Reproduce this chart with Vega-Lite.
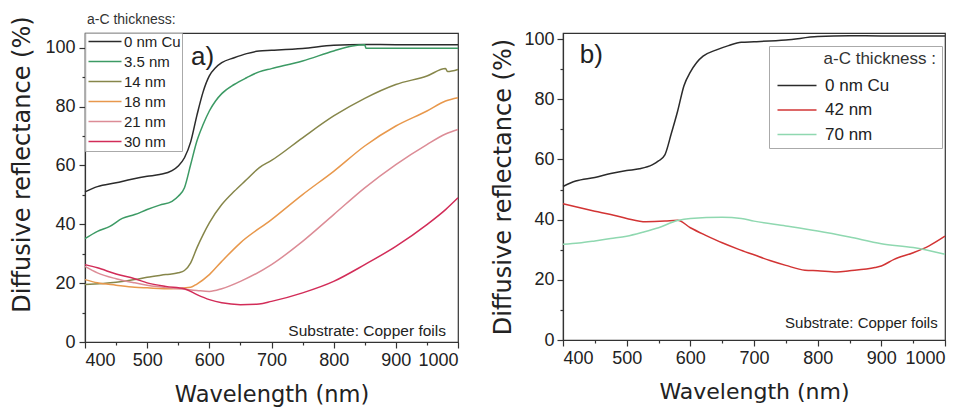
{
  "$schema": "https://vega.github.io/schema/vega-lite/v6.json",
  "background": "white",
  "padding": {"left": 10, "top": 12, "right": 5, "bottom": 0},
  "spacing": 29,
  "config": {
    "view": {"stroke": "#333", "strokeWidth": 1.2},
    "axis": {
      "grid": false,
      "domainColor": "#333",
      "tickColor": "#333",
      "labelColor": "#222",
      "titleColor": "#222",
      "labelFont": "Liberation Sans",
      "labelFontSize": 18,
      "titleFont": "DejaVu Sans",
      "titleFontWeight": "normal",
      "tickSize": 6,
      "labelPadding": 4,
      "domainWidth": 1.2,
      "tickWidth": 1.2
    },
    "legend": {"labelFont": "Liberation Sans", "titleFont": "Liberation Sans"}
  },
  "resolve": {"scale": {"x": "independent", "y": "independent", "color": "independent"}},
  "datasets": {
    "a": [
      {"wl": 400, "r": 51.0, "s": "0 nm Cu"}, {"wl": 420, "r": 52.8, "s": "0 nm Cu"}, {"wl": 450, "r": 54.1, "s": "0 nm Cu"}, {"wl": 475, "r": 55.3, "s": "0 nm Cu"}, {"wl": 500, "r": 56.3, "s": "0 nm Cu"}, {"wl": 520, "r": 56.9, "s": "0 nm Cu"}, {"wl": 540, "r": 58.2, "s": "0 nm Cu"}, {"wl": 550, "r": 59.8, "s": "0 nm Cu"}, {"wl": 560, "r": 62.6, "s": "0 nm Cu"}, {"wl": 570, "r": 68.0, "s": "0 nm Cu"}, {"wl": 580, "r": 77.0, "s": "0 nm Cu"}, {"wl": 590, "r": 85.0, "s": "0 nm Cu"}, {"wl": 600, "r": 90.4, "s": "0 nm Cu"}, {"wl": 610, "r": 93.2, "s": "0 nm Cu"}, {"wl": 620, "r": 94.9, "s": "0 nm Cu"}, {"wl": 640, "r": 96.6, "s": "0 nm Cu"}, {"wl": 660, "r": 98.0, "s": "0 nm Cu"}, {"wl": 680, "r": 98.9, "s": "0 nm Cu"}, {"wl": 700, "r": 99.1, "s": "0 nm Cu"}, {"wl": 750, "r": 99.7, "s": "0 nm Cu"}, {"wl": 800, "r": 100.8, "s": "0 nm Cu"}, {"wl": 850, "r": 101.1, "s": "0 nm Cu"}, {"wl": 900, "r": 101.0, "s": "0 nm Cu"}, {"wl": 950, "r": 101.0, "s": "0 nm Cu"}, {"wl": 1000, "r": 101.0, "s": "0 nm Cu"},
      {"wl": 400, "r": 35.1, "s": "3.5 nm"}, {"wl": 420, "r": 37.6, "s": "3.5 nm"}, {"wl": 440, "r": 39.3, "s": "3.5 nm"}, {"wl": 460, "r": 42.0, "s": "3.5 nm"}, {"wl": 480, "r": 43.3, "s": "3.5 nm"}, {"wl": 500, "r": 45.0, "s": "3.5 nm"}, {"wl": 520, "r": 46.5, "s": "3.5 nm"}, {"wl": 540, "r": 47.8, "s": "3.5 nm"}, {"wl": 550, "r": 49.5, "s": "3.5 nm"}, {"wl": 560, "r": 52.4, "s": "3.5 nm"}, {"wl": 570, "r": 60.3, "s": "3.5 nm"}, {"wl": 580, "r": 68.3, "s": "3.5 nm"}, {"wl": 590, "r": 73.9, "s": "3.5 nm"}, {"wl": 600, "r": 78.5, "s": "3.5 nm"}, {"wl": 610, "r": 81.9, "s": "3.5 nm"}, {"wl": 620, "r": 84.4, "s": "3.5 nm"}, {"wl": 640, "r": 87.5, "s": "3.5 nm"}, {"wl": 660, "r": 89.8, "s": "3.5 nm"}, {"wl": 680, "r": 91.8, "s": "3.5 nm"}, {"wl": 700, "r": 92.9, "s": "3.5 nm"}, {"wl": 750, "r": 95.5, "s": "3.5 nm"}, {"wl": 800, "r": 98.9, "s": "3.5 nm"}, {"wl": 830, "r": 100.6, "s": "3.5 nm"}, {"wl": 850, "r": 101.0, "s": "3.5 nm"}, {"wl": 852, "r": 99.8, "s": "3.5 nm"}, {"wl": 900, "r": 99.8, "s": "3.5 nm"}, {"wl": 950, "r": 99.8, "s": "3.5 nm"}, {"wl": 1000, "r": 99.8, "s": "3.5 nm"},
      {"wl": 400, "r": 19.5, "s": "14 nm"}, {"wl": 450, "r": 20.3, "s": "14 nm"}, {"wl": 480, "r": 21.2, "s": "14 nm"}, {"wl": 500, "r": 22.0, "s": "14 nm"}, {"wl": 530, "r": 22.9, "s": "14 nm"}, {"wl": 550, "r": 23.5, "s": "14 nm"}, {"wl": 560, "r": 24.3, "s": "14 nm"}, {"wl": 570, "r": 26.9, "s": "14 nm"}, {"wl": 580, "r": 32.0, "s": "14 nm"}, {"wl": 590, "r": 36.5, "s": "14 nm"}, {"wl": 600, "r": 40.5, "s": "14 nm"}, {"wl": 620, "r": 46.7, "s": "14 nm"}, {"wl": 640, "r": 51.2, "s": "14 nm"}, {"wl": 660, "r": 55.2, "s": "14 nm"}, {"wl": 680, "r": 59.2, "s": "14 nm"}, {"wl": 700, "r": 61.7, "s": "14 nm"}, {"wl": 750, "r": 69.4, "s": "14 nm"}, {"wl": 800, "r": 76.8, "s": "14 nm"}, {"wl": 850, "r": 82.8, "s": "14 nm"}, {"wl": 900, "r": 87.5, "s": "14 nm"}, {"wl": 950, "r": 90.4, "s": "14 nm"}, {"wl": 980, "r": 92.9, "s": "14 nm"}, {"wl": 983, "r": 91.9, "s": "14 nm"}, {"wl": 1000, "r": 92.6, "s": "14 nm"},
      {"wl": 400, "r": 21.2, "s": "18 nm"}, {"wl": 420, "r": 20.1, "s": "18 nm"}, {"wl": 450, "r": 19.3, "s": "18 nm"}, {"wl": 480, "r": 18.6, "s": "18 nm"}, {"wl": 500, "r": 18.4, "s": "18 nm"}, {"wl": 540, "r": 18.1, "s": "18 nm"}, {"wl": 570, "r": 18.6, "s": "18 nm"}, {"wl": 580, "r": 19.7, "s": "18 nm"}, {"wl": 600, "r": 22.9, "s": "18 nm"}, {"wl": 620, "r": 27.4, "s": "18 nm"}, {"wl": 650, "r": 33.7, "s": "18 nm"}, {"wl": 700, "r": 41.6, "s": "18 nm"}, {"wl": 750, "r": 50.1, "s": "18 nm"}, {"wl": 800, "r": 58.0, "s": "18 nm"}, {"wl": 850, "r": 66.6, "s": "18 nm"}, {"wl": 900, "r": 73.4, "s": "18 nm"}, {"wl": 950, "r": 78.5, "s": "18 nm"}, {"wl": 980, "r": 81.9, "s": "18 nm"}, {"wl": 1000, "r": 83.0, "s": "18 nm"},
      {"wl": 400, "r": 25.7, "s": "21 nm"}, {"wl": 420, "r": 23.5, "s": "21 nm"}, {"wl": 450, "r": 21.5, "s": "21 nm"}, {"wl": 480, "r": 20.1, "s": "21 nm"}, {"wl": 500, "r": 19.3, "s": "21 nm"}, {"wl": 550, "r": 18.1, "s": "21 nm"}, {"wl": 580, "r": 17.5, "s": "21 nm"}, {"wl": 600, "r": 17.2, "s": "21 nm"}, {"wl": 620, "r": 18.1, "s": "21 nm"}, {"wl": 650, "r": 20.6, "s": "21 nm"}, {"wl": 700, "r": 26.3, "s": "21 nm"}, {"wl": 750, "r": 34.2, "s": "21 nm"}, {"wl": 800, "r": 43.3, "s": "21 nm"}, {"wl": 850, "r": 52.4, "s": "21 nm"}, {"wl": 900, "r": 60.3, "s": "21 nm"}, {"wl": 950, "r": 67.1, "s": "21 nm"}, {"wl": 980, "r": 70.7, "s": "21 nm"}, {"wl": 1000, "r": 72.2, "s": "21 nm"},
      {"wl": 400, "r": 26.3, "s": "30 nm"}, {"wl": 420, "r": 25.2, "s": "30 nm"}, {"wl": 450, "r": 23.1, "s": "30 nm"}, {"wl": 480, "r": 21.5, "s": "30 nm"}, {"wl": 500, "r": 20.1, "s": "30 nm"}, {"wl": 530, "r": 18.9, "s": "30 nm"}, {"wl": 560, "r": 18.1, "s": "30 nm"}, {"wl": 580, "r": 16.1, "s": "30 nm"}, {"wl": 600, "r": 14.4, "s": "30 nm"}, {"wl": 620, "r": 13.3, "s": "30 nm"}, {"wl": 650, "r": 12.7, "s": "30 nm"}, {"wl": 680, "r": 12.9, "s": "30 nm"}, {"wl": 700, "r": 13.8, "s": "30 nm"}, {"wl": 750, "r": 16.7, "s": "30 nm"}, {"wl": 800, "r": 20.6, "s": "30 nm"}, {"wl": 850, "r": 26.3, "s": "30 nm"}, {"wl": 900, "r": 32.5, "s": "30 nm"}, {"wl": 950, "r": 39.9, "s": "30 nm"}, {"wl": 980, "r": 45.0, "s": "30 nm"}, {"wl": 1000, "r": 49.0, "s": "30 nm"}
    ],
    "b": [
      {"wl": 400, "r": 51.0, "s": "0 nm Cu"}, {"wl": 420, "r": 52.8, "s": "0 nm Cu"}, {"wl": 450, "r": 54.0, "s": "0 nm Cu"}, {"wl": 475, "r": 55.3, "s": "0 nm Cu"}, {"wl": 500, "r": 56.3, "s": "0 nm Cu"}, {"wl": 520, "r": 56.9, "s": "0 nm Cu"}, {"wl": 540, "r": 58.2, "s": "0 nm Cu"}, {"wl": 550, "r": 59.5, "s": "0 nm Cu"}, {"wl": 560, "r": 61.5, "s": "0 nm Cu"}, {"wl": 570, "r": 68.5, "s": "0 nm Cu"}, {"wl": 580, "r": 76.0, "s": "0 nm Cu"}, {"wl": 590, "r": 84.5, "s": "0 nm Cu"}, {"wl": 600, "r": 89.0, "s": "0 nm Cu"}, {"wl": 610, "r": 92.2, "s": "0 nm Cu"}, {"wl": 620, "r": 94.3, "s": "0 nm Cu"}, {"wl": 640, "r": 96.3, "s": "0 nm Cu"}, {"wl": 660, "r": 97.8, "s": "0 nm Cu"}, {"wl": 680, "r": 98.9, "s": "0 nm Cu"}, {"wl": 700, "r": 99.1, "s": "0 nm Cu"}, {"wl": 750, "r": 99.7, "s": "0 nm Cu"}, {"wl": 800, "r": 100.8, "s": "0 nm Cu"}, {"wl": 850, "r": 101.1, "s": "0 nm Cu"}, {"wl": 900, "r": 101.0, "s": "0 nm Cu"}, {"wl": 950, "r": 101.0, "s": "0 nm Cu"}, {"wl": 1000, "r": 101.0, "s": "0 nm Cu"},
      {"wl": 400, "r": 45.3, "s": "42 nm"}, {"wl": 425, "r": 44.0, "s": "42 nm"}, {"wl": 450, "r": 42.8, "s": "42 nm"}, {"wl": 475, "r": 41.7, "s": "42 nm"}, {"wl": 500, "r": 40.4, "s": "42 nm"}, {"wl": 530, "r": 39.3, "s": "42 nm"}, {"wl": 560, "r": 39.5, "s": "42 nm"}, {"wl": 580, "r": 39.8, "s": "42 nm"}, {"wl": 600, "r": 37.3, "s": "42 nm"}, {"wl": 625, "r": 34.7, "s": "42 nm"}, {"wl": 650, "r": 32.3, "s": "42 nm"}, {"wl": 675, "r": 30.2, "s": "42 nm"}, {"wl": 700, "r": 28.3, "s": "42 nm"}, {"wl": 725, "r": 26.4, "s": "42 nm"}, {"wl": 750, "r": 24.8, "s": "42 nm"}, {"wl": 780, "r": 23.2, "s": "42 nm"}, {"wl": 800, "r": 23.0, "s": "42 nm"}, {"wl": 830, "r": 22.6, "s": "42 nm"}, {"wl": 850, "r": 23.0, "s": "42 nm"}, {"wl": 890, "r": 24.1, "s": "42 nm"}, {"wl": 900, "r": 24.6, "s": "42 nm"}, {"wl": 920, "r": 26.8, "s": "42 nm"}, {"wl": 950, "r": 29.0, "s": "42 nm"}, {"wl": 975, "r": 31.3, "s": "42 nm"}, {"wl": 1000, "r": 34.5, "s": "42 nm"},
      {"wl": 400, "r": 31.8, "s": "70 nm"}, {"wl": 425, "r": 32.2, "s": "70 nm"}, {"wl": 450, "r": 32.9, "s": "70 nm"}, {"wl": 475, "r": 33.7, "s": "70 nm"}, {"wl": 500, "r": 34.5, "s": "70 nm"}, {"wl": 525, "r": 35.8, "s": "70 nm"}, {"wl": 550, "r": 37.3, "s": "70 nm"}, {"wl": 580, "r": 39.7, "s": "70 nm"}, {"wl": 600, "r": 40.4, "s": "70 nm"}, {"wl": 650, "r": 40.8, "s": "70 nm"}, {"wl": 680, "r": 40.4, "s": "70 nm"}, {"wl": 700, "r": 39.5, "s": "70 nm"}, {"wl": 750, "r": 37.9, "s": "70 nm"}, {"wl": 800, "r": 36.2, "s": "70 nm"}, {"wl": 850, "r": 34.2, "s": "70 nm"}, {"wl": 900, "r": 32.0, "s": "70 nm"}, {"wl": 950, "r": 30.7, "s": "70 nm"}, {"wl": 1000, "r": 28.5, "s": "70 nm"}
    ]
  },
  "hconcat": [
    {
      "width": 373,
      "height": 309,
      "resolve": {"axis": {"x": "independent", "y": "independent"}},
      "layer": [
        {
          "data": {"name": "a"},
          "mark": {"type": "line", "strokeWidth": 1.5, "interpolate": "monotone"},
          "encoding": {
            "x": {"field": "wl", "type": "quantitative", "scale": {"domain": [400, 1000], "nice": false}, "axis": {"values": [400, 500, 600, 700, 800, 900, 1000], "format": "d", "title": "Wavelength (nm)", "titleFontSize": 22.5, "titlePadding": 14, "labelPadding": 3}},
            "y": {"field": "r", "type": "quantitative", "scale": {"domain": [0, 105], "nice": false}, "axis": {"values": [0, 20, 40, 60, 80, 100], "title": "Diffusive reflectance (%)", "titleFontSize": 24, "titlePadding": 10, "titleY": 131}},
            "color": {
              "field": "s", "type": "nominal",
              "scale": {"domain": ["0 nm Cu", "3.5 nm", "14 nm", "18 nm", "21 nm", "30 nm"], "range": ["#2b2b2b", "#3c9a64", "#86864a", "#e8984c", "#dc8c96", "#d22c58"]},
              "legend": {"orient": "none", "legendX": 0, "legendY": 0, "title": null, "symbolType": "M-1,0L5.6,0", "symbolSize": 100, "symbolStrokeWidth": 1.5, "labelFontSize": 15, "labelColor": "#222", "labelOffset": 23, "rowPadding": 4, "padding": 1, "strokeColor": "#aaa"}
            }
          }
        },
        {
          "data": {"values": [{}]},
          "mark": {"type": "text", "align": "left", "baseline": "middle", "font": "Liberation Sans", "fontSize": 26, "color": "#222"},
          "encoding": {
            "x": {"datum": 570.5, "type": "quantitative", "scale": {"domain": [400, 1000], "nice": false}, "axis": {"orient": "bottom", "values": [450, 550, 650, 750, 850, 950], "labels": false, "title": null, "tickSize": 3, "domain": false}},
            "y": {"datum": 97, "type": "quantitative", "scale": {"domain": [0, 105], "nice": false}, "axis": {"orient": "left", "values": [10, 30, 50, 70, 90], "labels": false, "title": null, "tickSize": 3, "domain": false}},
            "text": {"value": "a)"}
          }
        },
        {
          "data": {"values": [{}]},
          "mark": {"type": "text", "align": "left", "baseline": "alphabetic", "dx": 2, "font": "Liberation Sans", "fontSize": 14, "color": "#333", "clip": false},
          "encoding": {
            "x": {"datum": 400, "type": "quantitative", "scale": {"domain": [400, 1000], "nice": false}, "axis": null},
            "y": {"datum": 108, "type": "quantitative", "scale": {"domain": [0, 105], "nice": false}, "axis": null},
            "text": {"value": "a-C thickness:"}
          }
        },
        {
          "data": {"values": [{}]},
          "mark": {"type": "text", "align": "right", "baseline": "middle", "font": "Liberation Sans", "fontSize": 15.5, "color": "#222"},
          "encoding": {
            "x": {"datum": 980.7, "type": "quantitative", "scale": {"domain": [400, 1000], "nice": false}, "axis": null},
            "y": {"datum": 3.6, "type": "quantitative", "scale": {"domain": [0, 105], "nice": false}, "axis": null},
            "text": {"value": "Substrate: Copper foils"}
          }
        }
      ]
    },
    {
      "width": 382,
      "height": 307,
      "resolve": {"axis": {"x": "independent", "y": "independent"}},
      "layer": [
        {
          "data": {"name": "b"},
          "mark": {"type": "line", "strokeWidth": 1.5, "interpolate": "monotone"},
          "encoding": {
            "x": {"field": "wl", "type": "quantitative", "scale": {"domain": [400, 1000], "nice": false}, "axis": {"values": [400, 500, 600, 700, 800, 900, 1000], "format": "d", "title": "Wavelength (nm)", "titleFontSize": 22, "titlePadding": 14, "labelPadding": 3}},
            "y": {"field": "r", "type": "quantitative", "scale": {"domain": [0, 102], "nice": false}, "axis": {"values": [0, 20, 40, 60, 80, 100], "title": "Diffusive reflectance (%)", "titleFontSize": 24, "titlePadding": 8, "labelPadding": 3}},
            "color": {
              "field": "s", "type": "nominal",
              "scale": {"domain": ["0 nm Cu", "42 nm", "70 nm"], "range": ["#2b2b2b", "#d23434", "#8fd8b0"]},
              "legend": {"orient": "none", "legendX": 206, "legendY": 13, "title": "a-C thickness :", "titleFontSize": 17, "titleFontWeight": "normal", "titleColor": "#333", "titleAnchor": "end", "titlePadding": 9, "symbolType": "M-1,0L6.8,0", "symbolSize": 100, "symbolStrokeWidth": 1.5, "labelFontSize": 17, "labelColor": "#222", "labelOffset": 34, "rowPadding": 6.5, "padding": 5, "strokeColor": "#aaa", "fillColor": "white", "labelExpr": "datum.label + '\u00a0\u00a0\u00a0\u00a0\u00a0\u00a0\u00a0\u00a0\u00a0\u00a0\u200b'"}
            }
          }
        },
        {
          "data": {"values": [{}]},
          "mark": {"type": "text", "align": "left", "baseline": "middle", "font": "Liberation Sans", "fontSize": 26, "color": "#222"},
          "encoding": {
            "x": {"datum": 426.3, "type": "quantitative", "scale": {"domain": [400, 1000], "nice": false}, "axis": {"orient": "bottom", "values": [450, 550, 650, 750, 850, 950], "labels": false, "title": null, "tickSize": 3, "domain": false}},
            "y": {"datum": 94.8, "type": "quantitative", "scale": {"domain": [0, 102], "nice": false}, "axis": {"orient": "left", "values": [10, 30, 50, 70, 90], "labels": false, "title": null, "tickSize": 3, "domain": false}},
            "text": {"value": "b)"}
          }
        },
        {
          "data": {"values": [{}]},
          "mark": {"type": "text", "align": "right", "baseline": "middle", "font": "Liberation Sans", "fontSize": 15, "color": "#222"},
          "encoding": {
            "x": {"datum": 988.5, "type": "quantitative", "scale": {"domain": [400, 1000], "nice": false}, "axis": null},
            "y": {"datum": 5.7, "type": "quantitative", "scale": {"domain": [0, 102], "nice": false}, "axis": null},
            "text": {"value": "Substrate: Copper foils"}
          }
        }
      ]
    }
  ]
}
